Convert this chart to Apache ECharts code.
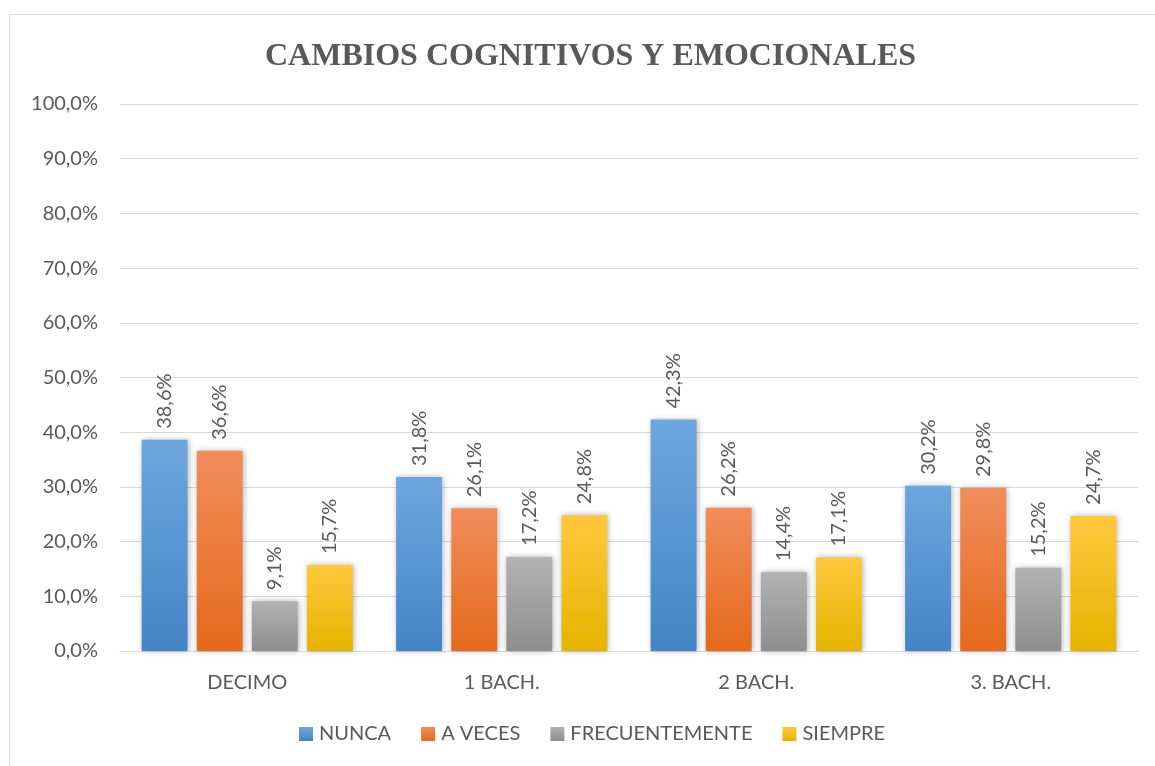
<!DOCTYPE html>
<html>
<head>
<meta charset="utf-8">
<script src="https://cdn.jsdelivr.net/npm/echarts@6/dist/echarts.min.js"></script>
<style>
  html, body { margin: 0; padding: 0; background: #fff; }
  #chart { width: 1155px; height: 766px; }
</style>
</head>
<body>
<div id="chart"></div>
<script>
// categorías y valores (%)
var categories = ['DECIMO', '1 BACH.', '2 BACH.', '3. BACH.']
var seriesNames = ['NUNCA', 'A VECES', 'FRECUENTEMENTE', 'SIEMPRE']
var nunca = [38.6, 31.8, 42.3, 30.2]
var aVeces = [36.6, 26.1, 26.2, 29.8]
var frecuentemente = [9.1, 17.2, 14.4, 15.2]
var siempre = [15.7, 24.8, 17.1, 24.7]

var values = [nunca, aVeces, frecuentemente, siempre]
// colores degradados: arriba / abajo
var colors = [
  ['#6ea6de', '#4384c6'],
  ['#f18d5b', '#e4691b'],
  ['#b2b2b2', '#8e8e8e'],
  ['#ffc83e', '#e6b300']
]
var font = 'Lato'

function fmt(v) {
  return v.toFixed(1).replace('.', ',') + '%'
}

var chart = echarts.init(document.getElementById('chart'))

var series = values.map(function(data, i) {
  return {
    name: seriesNames[i],
    type: 'bar',
    data: data,
    barGap: '20%',
    barCategoryGap: '17%',
    itemStyle: {
      color: new echarts.graphic.LinearGradient(0, 0, 0, 1, [
        { offset: 0, color: colors[i][0] },
        { offset: 1, color: colors[i][1] }
      ]),
      shadowColor: 'rgba(0, 0, 0, 0.3)',
      shadowBlur: 6,
      shadowOffsetX: 1,
      shadowOffsetY: 0
    },
    label: {
      show: true,
      position: 'top',
      rotate: 90,
      align: 'left',
      verticalAlign: 'middle',
      distance: 11,
      color: '#595959',
      fontFamily: font,
      fontSize: 20,
      formatter: function(p) { return fmt(p.value) }
    }
  }
})

chart.setOption({
  backgroundColor: '#fff',
  animation: false,
  graphic: [{
    type: 'rect',
    shape: { x: 9.5, y: 14.5, width: 1160, height: 760 },
    style: { fill: 'none', stroke: '#d9d9d9', lineWidth: 1 },
    silent: true
  }],
  title: {
    text: 'CAMBIOS COGNITIVOS Y EMOCIONALES',
    left: 260,
    top: 36,
    textStyle: {
      fontFamily: 'Liberation Serif',
      fontWeight: 'bold',
      fontSize: 32,
      color: '#595959'
    }
  },
  legend: {
    top: 724,
    left: 299,
    padding: 0,
    itemWidth: 14,
    itemHeight: 14,
    itemGap: 30,
    icon: 'rect',
    textStyle: {
      fontFamily: font,
      fontSize: 20,
      color: '#595959',
      padding: [0, 0, 0, 1]
    },
    data: seriesNames
  },
  grid: {
    left: 120,
    right: 17,
    top: 104,
    bottom: 115,
    containLabel: false
  },
  xAxis: {
    type: 'category',
    data: categories,
    axisTick: { show: false },
    axisLine: { lineStyle: { color: '#d9d9d9', width: 1 } },
    axisLabel: {
      color: '#595959',
      fontFamily: font,
      fontSize: 20,
      margin: 22
    }
  },
  yAxis: {
    type: 'value',
    min: 0,
    max: 100,
    interval: 10,
    axisLine: { show: false },
    axisTick: { show: false },
    splitLine: { lineStyle: { color: '#d9d9d9', width: 1 } },
    axisLabel: {
      color: '#595959',
      fontFamily: font,
      fontSize: 20,
      margin: 22,
      formatter: function(v) { return fmt(v) }
    }
  },
  series: series
})
</script>
</body>
</html>
